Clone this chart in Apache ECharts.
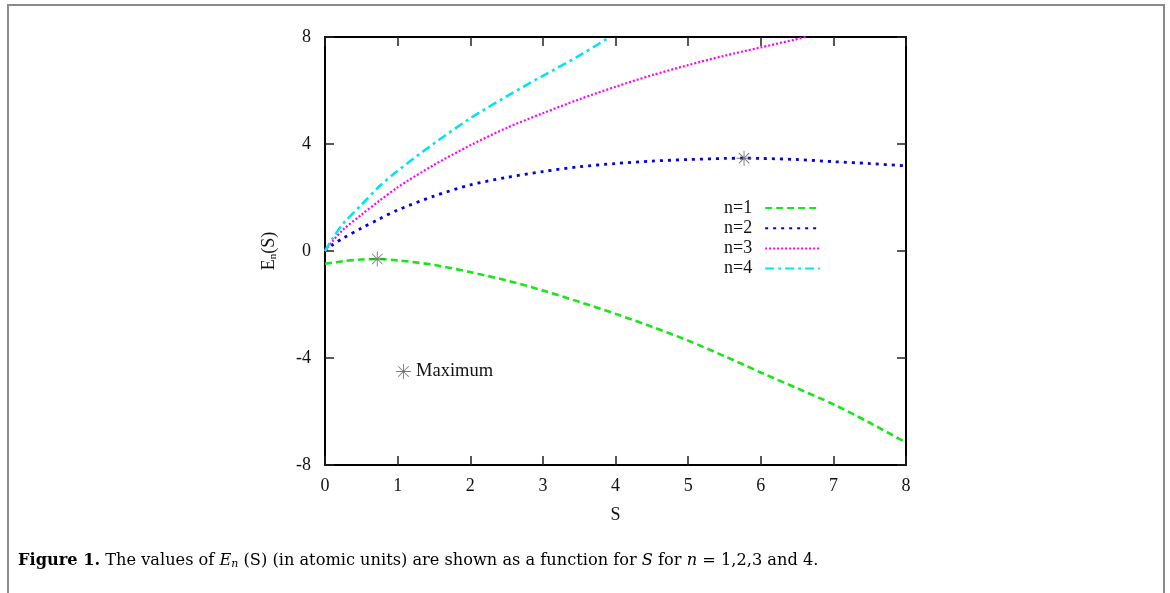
<!DOCTYPE html>
<html>
<head>
<meta charset="utf-8">
<script src="https://cdn.jsdelivr.net/npm/echarts@6/dist/echarts.min.js"></script>
<style>
  html, body { margin: 0; padding: 0; background: #fff; }
  #chart { width: 1170px; height: 593px; }
</style>
</head>
<body>
<div id="chart"></div>
<script>
// values (S in a.u., E in a.u.)
const s1 = [0, 0.25, 0.5, 0.72, 1, 1.5, 2, 2.5, 3, 3.5, 4, 4.5, 5, 5.5, 6, 6.5, 7, 7.5, 8];
const e1 = [-0.48, -0.38, -0.32, -0.30, -0.35, -0.52, -0.79, -1.1, -1.48, -1.9, -2.35, -2.83, -3.35, -3.93, -4.54, -5.13, -5.73, -6.42, -7.16];

const s2 = [0, 0.1, 0.25, 0.5, 0.75, 1, 1.5, 2, 2.5, 3, 3.5, 4, 4.5, 5, 5.5, 5.77, 6, 6.5, 7, 7.5, 8];
const e2 = [0, 0.22, 0.48, 0.85, 1.2, 1.53, 2.05, 2.47, 2.75, 2.97, 3.15, 3.27, 3.36, 3.42, 3.46, 3.47, 3.46, 3.42, 3.34, 3.27, 3.18];

const s3 = [0, 0.1, 0.25, 0.5, 0.75, 1, 1.5, 2, 2.5, 3, 3.5, 4, 4.5, 5, 5.5, 6, 6.62];
const e3 = [0, 0.35, 0.8, 1.35, 1.88, 2.38, 3.22, 3.95, 4.6, 5.15, 5.67, 6.14, 6.57, 6.95, 7.3, 7.61, 8.0];

const s4 = [0, 0.1, 0.25, 0.5, 0.75, 1, 1.5, 2, 2.5, 3, 3.5, 3.92];
const e4 = [0, 0.45, 1.02, 1.72, 2.42, 3.0, 4.02, 4.96, 5.78, 6.55, 7.3, 8.0];

const maxS = [0.72, 5.77];
const maxE = [-0.30, 3.47];

const xTicks = [0, 8, 1];   // min, max, step
const yTicks = [-8, 8, 4];

const pts = (xs, ys) => xs.map((x, i) => [x, ys[i]]);

// 8-spoke asterisk
const star = 'path://M47 0L53 0L53 100L47 100Z M0 47L100 47L100 53L0 53Z ' +
  'M12.9 17.1L17.1 12.9L87.1 82.9L82.9 87.1Z M82.9 12.9L87.1 17.1L17.1 87.1L12.9 82.9Z';

const serif = 'Liberation Serif';
const capFont = 'DejaVu Serif';
const chart = echarts.init(document.getElementById('chart'));

const axisCommon = {
  type: 'value',
  splitLine: { show: false },
  axisLine: { show: true, onZero: false, lineStyle: { color: '#000', width: 2 } },
  axisTick: { show: true, inside: true, length: 9, lineStyle: { color: '#222', width: 1.5 } },
  axisLabel: { color: '#111', fontFamily: serif, fontSize: 18 }
};

chart.setOption({
  animation: false,
  textStyle: { fontFamily: serif },
  title: {
    left: 13,
    top: 546,
    text: '{b|Figure 1.} The values of {i|E}{sub|n} (S) (in atomic units) are shown as a function for {i|S} for {i|n} = 1,2,3 and 4.',
    textStyle: {
      fontFamily: capFont, fontSize: 16.2, fontWeight: 'normal', color: '#000',
      rich: {
        b: { fontFamily: capFont, fontSize: 16.2, fontWeight: 'bold', color: '#000' },
        i: { fontFamily: capFont, fontSize: 16.2, fontStyle: 'italic', color: '#000' },
        sub: { fontFamily: capFont, fontSize: 11, fontStyle: 'italic', color: '#000', verticalAlign: 'bottom', padding: [8, 0, 0, 0] }
      }
    }
  },
  graphic: [{
    type: 'polyline',
    shape: { points: [[8, 600], [8, 5], [1164, 5], [1164, 600]] },
    style: { stroke: '#8a8a8a', lineWidth: 2, fill: null },
    silent: true
  }],
  grid: { left: 325, right: 264, top: 37, bottom: 128 },
  xAxis: [
    Object.assign({}, axisCommon, {
      position: 'bottom', min: xTicks[0], max: xTicks[1], interval: xTicks[2],
      name: 'S', nameLocation: 'middle', nameGap: 41,
      nameTextStyle: { color: '#111', fontFamily: serif, fontSize: 18 },
      axisLabel: Object.assign({}, axisCommon.axisLabel, { margin: 12 })
    }),
    Object.assign({}, axisCommon, {
      position: 'top', min: xTicks[0], max: xTicks[1], interval: xTicks[2],
      axisLabel: { show: false }
    })
  ],
  yAxis: [
    Object.assign({}, axisCommon, {
      position: 'left', min: yTicks[0], max: yTicks[1], interval: yTicks[2],
      name: 'E{sub|n}(S)', nameLocation: 'middle', nameGap: 46, nameRotate: 90,
      nameTextStyle: {
        color: '#111', fontFamily: serif, fontSize: 18,
        rich: { sub: { fontFamily: serif, fontSize: 11, color: '#111', verticalAlign: 'bottom', padding: [8, 0, 0, 0] } }
      },
      axisLabel: Object.assign({}, axisCommon.axisLabel, { margin: 14 })
    }),
    Object.assign({}, axisCommon, {
      position: 'right', min: yTicks[0], max: yTicks[1], interval: yTicks[2],
      axisLabel: { show: false }
    })
  ],
  legend: [{
    data: ['n=1', 'n=2', 'n=3', 'n=4'],
    orient: 'vertical',
    left: 719,
    top: 194,
    align: 'right',
    itemWidth: 55,
    itemHeight: 14,
    itemGap: 2.2,
    itemStyle: { opacity: 0 },
    textStyle: { fontFamily: serif, fontSize: 18, color: '#111', padding: [0, 8, 0, 0] }
  }, {
    data: ['Maximum'],
    left: 391,
    top: 357,
    itemWidth: 15,
    itemHeight: 15,
    textStyle: { fontFamily: serif, fontSize: 18.5, color: '#111' }
  }],
  series: [
    {
      name: 'n=1', type: 'line', data: pts(s1, e1), smooth: 0.3, showSymbol: false, symbol: 'none',
      lineStyle: { color: '#19e619', width: 2.6, type: [7, 4] }, itemStyle: { color: '#19e619' }
    },
    {
      name: 'n=2', type: 'line', data: pts(s2, e2), smooth: 0.3, showSymbol: false, symbol: 'none',
      lineStyle: { color: '#0000e0', width: 2.8, type: [3, 5] }, itemStyle: { color: '#0000e0' }
    },
    {
      name: 'n=3', type: 'line', data: pts(s3, e3), smooth: 0.3, showSymbol: false, symbol: 'none',
      lineStyle: { color: '#ff00ff', width: 2.2, type: [2, 2] }, itemStyle: { color: '#ff00ff' }
    },
    {
      name: 'n=4', type: 'line', data: pts(s4, e4), smooth: 0.3, showSymbol: false, symbol: 'none',
      lineStyle: { color: '#00e5ee', width: 2.6, type: [9, 4, 3, 4] }, itemStyle: { color: '#00e5ee' }
    },
    {
      name: 'Maximum', type: 'scatter', data: pts(maxS, maxE), symbol: star, symbolSize: 15,
      itemStyle: { color: '#555' }, z: 5
    }
  ]
});
</script>
</body>
</html>
